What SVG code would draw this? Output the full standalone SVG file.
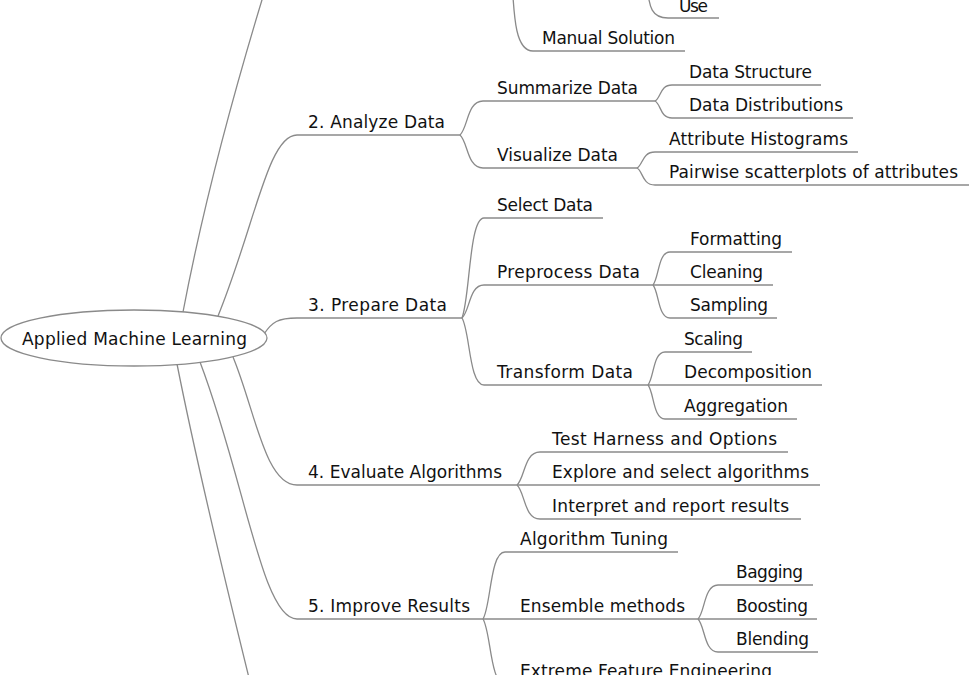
<svg xmlns="http://www.w3.org/2000/svg" width="974" height="675" viewBox="0 0 974 675">
<style>
.c{fill:none;stroke:#8a8a8a;stroke-width:1.3}
.t{font-family:"DejaVu Sans","Liberation Sans",sans-serif;font-size:17px;fill:#111}
.root{fill:#fff;stroke:#8a8a8a;stroke-width:1.3}
</style>
<rect width="974" height="675" fill="#fff"/>
<g id="connectors">
<path class="c" d="M183,312 Q210,170 265,-10"/>
<path class="c" d="M218,316 C255,225 268,135 297,135 L460,135"/>
<path class="c" d="M264,334 C272,322 278,318 297,318 L462,318"/>
<path class="c" d="M233,357 C255,410 265,485 297,485 L517,485"/>
<path class="c" d="M200,362 C245,480 262,619 297,619 L483,619"/>
<path class="c" d="M177,364 Q200,480 252,690"/>
<path class="c" d="M512,-20 C514,20 516,51 533,51 L685,51"/>
<path class="c" d="M647,-15 C649,8 652,18 668,18 L719,18"/>
<path class="c" d="M460,135 C468,128 467,101 483,101 L655,101"/>
<path class="c" d="M460,135 C468,142 467,168 483,168 L637,168"/>
<path class="c" d="M655,101 C661,98 660,85 672,85 L821,85"/>
<path class="c" d="M655,101 C661,104 660,118 672,118 L853,118"/>
<path class="c" d="M637,168 C643,165 642,152 655,152 L858,152"/>
<path class="c" d="M637,168 C643,171 642,185 655,185 L969,185"/>
<path class="c" d="M462,318 C470,298 469,218 484,218 L603,218"/>
<path class="c" d="M462,318 C470,311 469,285 484,285 L653,285"/>
<path class="c" d="M462,318 C470,331 469,385 484,385 L648,385"/>
<path class="c" d="M653,285 C659,278 658,252 670,252 L792,252"/>
<path class="c" d="M653,285 L773,285"/>
<path class="c" d="M653,285 C659,292 658,318 670,318 L777,318"/>
<path class="c" d="M648,385 C654,378 653,352 665,352 L752,352"/>
<path class="c" d="M648,385 L822,385"/>
<path class="c" d="M648,385 C654,392 653,419 665,419 L797,419"/>
<path class="c" d="M517,485 C525,478 524,452 540,452 L788,452"/>
<path class="c" d="M517,485 L820,485"/>
<path class="c" d="M517,485 C525,492 524,519 540,519 L801,519"/>
<path class="c" d="M483,619 C491,606 490,552 505,552 L678,552"/>
<path class="c" d="M483,619 L698,619"/>
<path class="c" d="M483,619 C491,632 490,684 505,684 L780,684"/>
<path class="c" d="M698,619 C705,612 704,585 718,585 L813,585"/>
<path class="c" d="M698,619 L817,619"/>
<path class="c" d="M698,619 C705,626 704,652 718,652 L818,652"/>
</g>
<g id="root"><ellipse class="root" cx="134" cy="338" rx="133" ry="28"/><text class="t" x="22" y="345" textLength="225">Applied Machine Learning</text></g>
<g id="n-manual"><text class="t" x="542" y="44" textLength="133">Manual Solution</text></g>
<g id="n-use"><text class="t" x="679" y="12" textLength="29">Use</text></g>
<g id="n-analyze"><text class="t" x="308" y="128" textLength="137">2. Analyze Data</text></g>
<g id="n-summarize"><text class="t" x="497" y="94" textLength="141">Summarize Data</text></g>
<g id="n-structure"><text class="t" x="689" y="78" textLength="123">Data Structure</text></g>
<g id="n-distributions"><text class="t" x="689" y="111" textLength="154">Data Distributions</text></g>
<g id="n-visualize"><text class="t" x="497" y="161" textLength="121">Visualize Data</text></g>
<g id="n-histograms"><text class="t" x="669" y="145" textLength="179">Attribute Histograms</text></g>
<g id="n-pairwise"><text class="t" x="669" y="178" textLength="289">Pairwise scatterplots of attributes</text></g>
<g id="n-prepare"><text class="t" x="308" y="311" textLength="139">3. Prepare Data</text></g>
<g id="n-select"><text class="t" x="497" y="211" textLength="96">Select Data</text></g>
<g id="n-preprocess"><text class="t" x="497" y="278" textLength="143">Preprocess Data</text></g>
<g id="n-formatting"><text class="t" x="690" y="245" textLength="92">Formatting</text></g>
<g id="n-cleaning"><text class="t" x="690" y="278" textLength="73">Cleaning</text></g>
<g id="n-sampling"><text class="t" x="690" y="311" textLength="78">Sampling</text></g>
<g id="n-transform"><text class="t" x="497" y="378" textLength="136">Transform Data</text></g>
<g id="n-scaling"><text class="t" x="684" y="345" textLength="59">Scaling</text></g>
<g id="n-decomposition"><text class="t" x="684" y="378" textLength="128">Decomposition</text></g>
<g id="n-aggregation"><text class="t" x="684" y="412" textLength="104">Aggregation</text></g>
<g id="n-evaluate"><text class="t" x="308" y="478" textLength="194">4. Evaluate Algorithms</text></g>
<g id="n-harness"><text class="t" x="552" y="445" textLength="225">Test Harness and Options</text></g>
<g id="n-explore"><text class="t" x="552" y="478" textLength="257">Explore and select algorithms</text></g>
<g id="n-interpret"><text class="t" x="552" y="512" textLength="237">Interpret and report results</text></g>
<g id="n-improve"><text class="t" x="308" y="612" textLength="162">5. Improve Results</text></g>
<g id="n-tuning"><text class="t" x="520" y="545" textLength="148">Algorithm Tuning</text></g>
<g id="n-ensemble"><text class="t" x="520" y="612" textLength="165">Ensemble methods</text></g>
<g id="n-bagging"><text class="t" x="736" y="578" textLength="67">Bagging</text></g>
<g id="n-boosting"><text class="t" x="736" y="612" textLength="72">Boosting</text></g>
<g id="n-blending"><text class="t" x="736" y="645" textLength="73">Blending</text></g>
<g id="n-extreme"><text class="t" x="520" y="677" textLength="252">Extreme Feature Engineering</text></g>
</svg>
